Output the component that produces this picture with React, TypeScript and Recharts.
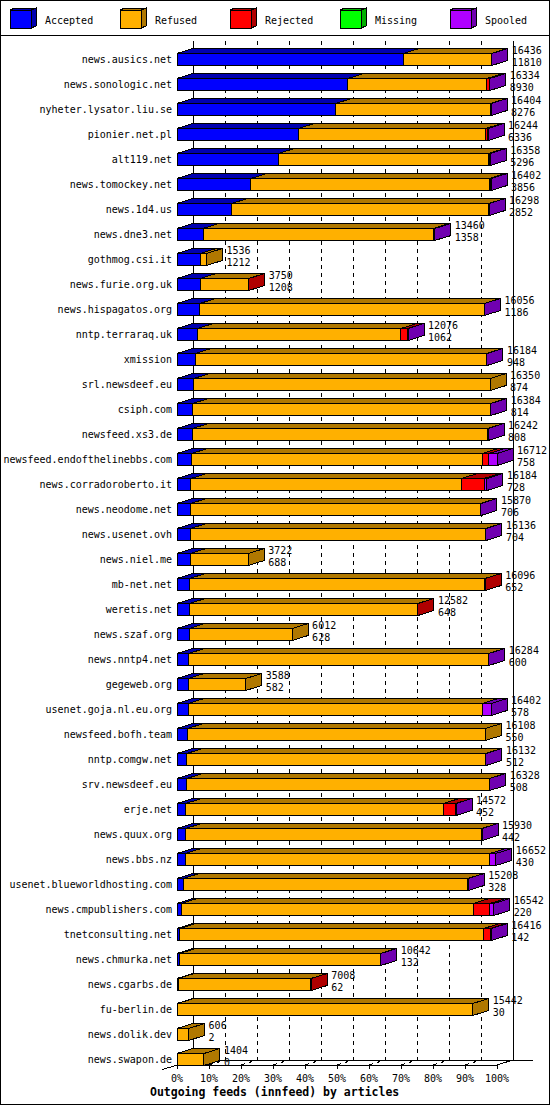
import React from 'react';
import { BarChart, Bar, XAxis, YAxis, CartesianGrid, Legend } from 'recharts';

// innfeed peers, top to bottom
const FEEDS = [
  'news.ausics.net', 'news.sonologic.net', 'nyheter.lysator.liu.se', 'pionier.net.pl',
  'alt119.net', 'news.tomockey.net', 'news.1d4.us', 'news.dne3.net', 'gothmog.csi.it',
  'news.furie.org.uk', 'news.hispagatos.org', 'nntp.terraraq.uk', 'xmission',
  'srl.newsdeef.eu', 'csiph.com', 'newsfeed.xs3.de', 'newsfeed.endofthelinebbs.com',
  'news.corradoroberto.it', 'news.neodome.net', 'news.usenet.ovh', 'news.niel.me',
  'mb-net.net', 'weretis.net', 'news.szaf.org', 'news.nntp4.net', 'gegeweb.org',
  'usenet.goja.nl.eu.org', 'newsfeed.bofh.team', 'nntp.comgw.net', 'srv.newsdeef.eu',
  'erje.net', 'news.quux.org', 'news.bbs.nz', 'usenet.blueworldhosting.com',
  'news.cmpublishers.com', 'tnetconsulting.net', 'news.chmurka.net', 'news.cgarbs.de',
  'fu-berlin.de', 'news.dolik.dev', 'news.swapon.de',
];

// offered articles (upper number right of each bar)
const TOTAL = [
  16436, 16334, 16404, 16244, 16358, 16402, 16298, 13460, 1536, 3750, 16056, 12076, 16184,
  16350, 16384, 16242, 16712, 16184, 15870, 16136, 3722, 16096, 12582, 6012, 16284, 3588,
  16402, 16108, 16132, 16328, 14572, 15930, 16652, 15208, 16542, 16416, 10642, 7008, 15442,
  606, 1404,
];

const ACCEPTED = [
  11810, 8930, 8276, 6336, 5296, 3856, 2852, 1358, 1212, 1208, 1186, 1062, 948, 874, 814,
  808, 758, 728, 706, 704, 688, 652, 648, 628, 600, 582, 578, 550, 512, 508, 452, 442, 430,
  328, 220, 142, 132, 62, 30, 2, 0,
];

const REFUSED = [
  4606, 7254, 8093, 9788, 10972, 12456, 13426, 12022, 324, 2527, 14850, 10634, 15216, 15476,
  15550, 15414, 15184, 14126, 15144, 15412, 3034, 15429, 11919, 5384, 15664, 3006, 15354,
  15558, 15600, 15800, 13460, 15468, 15912, 14860, 15242, 15874, 10490, 6931, 15412, 604,
  1404,
];

const REJECTED = [
  0, 130, 15, 100, 70, 70, 0, 60, 0, 15, 0, 350, 0, 0, 0, 0, 350, 1180, 0, 0, 0, 15, 15, 0,
  0, 0, 0, 0, 0, 0, 640, 0, 0, 0, 880, 340, 0, 15, 0, 0, 0,
];

const MISSING = [
  0, 0, 0, 0, 0, 0, 0, 0, 0, 0, 0, 0, 0, 0, 0, 0, 0, 0, 0, 0, 0, 0, 0, 0, 0, 0, 0, 0, 0, 0,
  0, 0, 0, 0, 0, 0, 0, 0, 0, 0, 0,
];

const SPOOLED = [
  20, 20, 20, 20, 20, 20, 20, 20, 0, 0, 20, 20, 20, 0, 20, 20, 420, 150, 20, 20, 0, 0, 0, 0,
  20, 0, 470, 0, 20, 20, 20, 20, 310, 20, 200, 60, 20, 0, 0, 0, 0,
];

const TICK_LABELS = ['0%', '10%', '20%', '30%', '40%', '50%', '60%', '70%', '80%', '90%', '100%'];

const SERIES = [
  { key: 'accepted', name: 'Accepted', front: '#0000FF', dark: '#0000B0' },
  { key: 'refused', name: 'Refused', front: '#FFB000', dark: '#B07800' },
  { key: 'rejected', name: 'Rejected', front: '#FF0000', dark: '#B00000' },
  { key: 'missing', name: 'Missing', front: '#00FF00', dark: '#00B000' },
  { key: 'spooled', name: 'Spooled', front: '#B000FF', dark: '#7000B0' },
];

const FONT = '"DejaVu Sans Mono", monospace';
const DX = 16; // 3d depth
const DY = 5;

const MAX = Math.max(...TOTAL);
const TICKS = TICK_LABELS.map((_, i) => (MAX * i) / (TICK_LABELS.length - 1));

const data = FEEDS.map((name, i) => ({
  name,
  total: TOTAL[i],
  accepted: ACCEPTED[i],
  refused: REFUSED[i],
  rejected: REJECTED[i],
  missing: MISSING[i],
  spooled: SPOOLED[i],
}));

const makeSlab = (front: string, dark: string, withLabels: boolean) => (p: any) => {
  const { x, y, width, height, payload } = p;
  const x2 = x + width;
  return (
    <g>
      {width > 0 && (
        <g shapeRendering="crispEdges" stroke="#000" strokeWidth={1}>
          <rect x={x} y={y} width={width} height={height} fill={front} />
          <path d={`M${x},${y}L${x + DX},${y - DY}L${x2 + DX},${y - DY}L${x2},${y}Z`} fill={dark} />
          <path
            d={`M${x2},${y}L${x2 + DX},${y - DY}L${x2 + DX},${y + height - DY}L${x2},${y + height}Z`}
            fill={dark}
          />
        </g>
      )}
      {withLabels && (
        <g fontFamily={FONT} fontSize={10} fill="#000">
          <text x={x2 + DX + 4} y={y + 0.5}>{payload.total}</text>
          <text x={x2 + DX + 4} y={y + height}>{payload.accepted}</text>
        </g>
      )}
    </g>
  );
};

const gridLine = (p: any) => {
  const { x1, y1, y2, index } = p;
  const top = y1 - 5.5;
  const front = y2 - 6.5;
  const back = front - DY;
  const edge = index === 0 || index === TICK_LABELS.length - 1;
  const dash = edge ? undefined : '4 4';
  return (
    <g key={`vg-${index}`} shapeRendering="crispEdges" stroke="#000" fill="none">
      <line x1={x1 + DX} y1={top} x2={x1 + DX} y2={back} strokeDasharray={dash} />
      <line x1={x1} y1={front} x2={x1 + DX} y2={back} strokeDasharray={dash} />
      <line x1={x1} y1={front} x2={x1} y2={front + 4} />
      {index === 0 && (
        <>
          <line x1={x1 - 15} y1={front + 4.7} x2={x1} y2={front} />
          <line x1={x1} y1={front} x2={x1 + 320} y2={front} />
          <line x1={x1 + DX} y1={back} x2={x1 + DX + 340} y2={back} />
        </>
      )}
    </g>
  );
};

const NameTick = ({ x, y, payload }: any) => (
  <text x={x} y={y + 4.3} textAnchor="end" fontFamily={FONT} fontSize={10} fill="#000">
    {payload.value}
  </text>
);

const PctTick = ({ x, y, index }: any) => (
  <text x={x} y={y + 2} textAnchor="middle" fontFamily={FONT} fontSize={10} fill="#000">
    {TICK_LABELS[index]}
  </text>
);

const LegendBox = () => (
  <svg width={550} height={36} style={{ display: 'block' }}>
    {SERIES.map((s, i) => {
      const x = 10 + i * 110;
      return (
        <g key={s.key}>
          <g shapeRendering="crispEdges" stroke="#000">
            <rect x={x} y={10} width={21} height={18} fill={s.front} />
            <path d={`M${x},10L${x + 5},8L${x + 26},8L${x + 21},10Z`} fill={s.dark} />
            <path d={`M${x + 21},10L${x + 26},8L${x + 26},26L${x + 21},28Z`} fill={s.dark} />
          </g>
          <text x={x + 35} y={24} fontFamily={FONT} fontSize={10} fill="#000">
            {s.name}
          </text>
        </g>
      );
    })}
    <line x1={0} y1={35.5} x2={550} y2={35.5} stroke="#000" />
  </svg>
);

export default function App() {
  return (
    <div style={{ position: 'relative', width: 550, height: 1105, background: '#fff' }}>
      <style>{'body{margin:0}'}</style>
      <BarChart
        width={550}
        height={1105}
        data={data}
        layout="vertical"
        margin={{ top: 10.5, right: 53, bottom: 13.5, left: 0 }}
      >
        <Legend
          verticalAlign="top"
          align="left"
          content={<LegendBox />}
          wrapperStyle={{ top: 0, left: 0, width: 550, height: 36 }}
        />
        <CartesianGrid horizontal={false} vertical={gridLine} syncWithTicks />
        <XAxis
          type="number"
          domain={[0, MAX]}
          ticks={TICKS}
          interval={0}
          axisLine={false}
          tickLine={false}
          height={20}
          tick={<PctTick />}
          label={({ viewBox }: any) => (
            <text
              x={viewBox.x - 27}
              y={viewBox.y + 24.5}
              fontFamily={FONT}
              fontSize={11.5}
              fontWeight="bold"
              fill="#000"
            >
              Outgoing feeds (innfeed) by articles
            </text>
          )}
        />
        <YAxis
          type="category"
          dataKey="name"
          width={177}
          tickSize={5}
          tickMargin={0}
          axisLine={false}
          tickLine={false}
          interval={0}
          tick={<NameTick />}
        />
        {SERIES.map((s, i) => (
          <Bar
            key={s.key}
            dataKey={s.key}
            name={s.name}
            stackId="feeds"
            barSize={12}
            fill={s.front}
            isAnimationActive={false}
            shape={makeSlab(s.front, s.dark, i === SERIES.length - 1)}
          />
        ))}
      </BarChart>
      <div
        style={{
          position: 'absolute',
          inset: 0,
          border: '1px solid #000',
          boxSizing: 'border-box',
          pointerEvents: 'none',
        }}
      />
    </div>
  );
}
